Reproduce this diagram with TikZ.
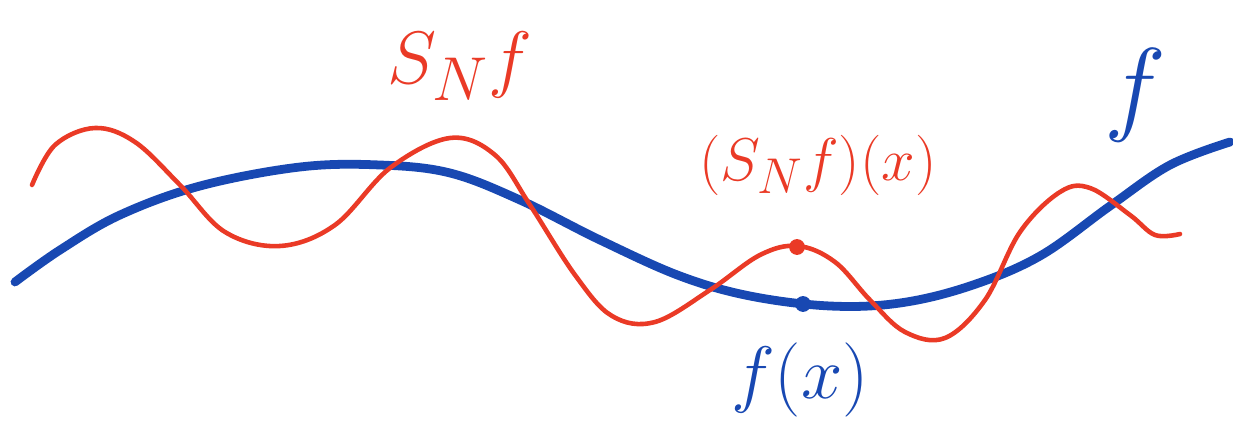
\documentclass[tikz,border=0pt]{standalone}
\usepackage{graphicx}
\usepackage{amsmath}
\definecolor{penred}{RGB}{234,58,38}
\definecolor{penblue}{RGB}{24,72,178}
\newcommand{\penlbl}[2][1.85]{\scalebox{#1}{\Huge #2}}
\begin{document}
\begin{tikzpicture}[
  x=0.02cm, y=-0.02cm,
  fcurve/.style={penblue, line width=5pt, line cap=round, line join=round},
  scurve/.style={penred, line width=2.6pt, line cap=round, line join=round},
  redlbl/.style={penred},
  bluelbl/.style={penblue},
  pt/.style={circle, inner sep=0pt, minimum size=9pt}
]
\useasboundingbox (0,0) rectangle (1233,435);

% the function f
\draw[fcurve] plot[smooth, tension=0.6] coordinates {
  (15,282) (60,250) (120,215) (200,186) (300,167) (380,165) (450,173)
  (520,200) (600,240) (680,276) (750,296) (830,306) (900,303)
  (970,286) (1040,256) (1110,206) (1170,165) (1230,142)};

% the partial sum S_N f
\draw[scurve] plot[smooth, tension=0.6] coordinates {
  (32,185) (55,145) (95,128) (135,142) (180,185) (225,232) (280,246)
  (335,225) (390,168) (450,138) (495,155) (530,205) (575,275)
  (612,316) (655,322) (710,290) (760,255) (798,246) (835,262)
  (870,300) (905,332) (945,338) (985,300) (1020,232) (1060,192)
  (1090,188) (1130,215) (1155,235) (1180,234)};

% the point x
\node[pt, fill=penred] (sx) at (797,247) {};
\node[pt, fill=penblue] (fx) at (803,304) {};

% labels
\node[redlbl] (snf) at (460,66) {\penlbl[1.7]{$S_N f$}};
\node[redlbl] (snfx) at (818,165) {\penlbl[1.38]{$(S_N f)(x)$}};
\node[bluelbl] (fxl) at (800,380) {\penlbl[1.7]{$f(x)$}};
\node[bluelbl] (fl) at (1135,95) {\penlbl[2.4]{$f$}};
\end{tikzpicture}
\end{document}
